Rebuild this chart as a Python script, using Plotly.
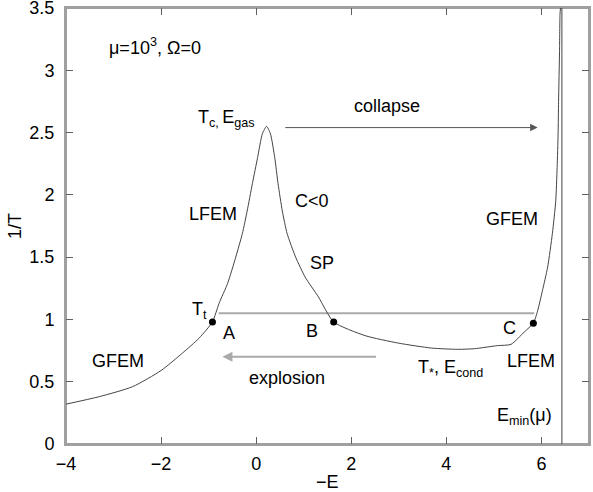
"""Microcanonical caloric curve 1/T vs -E with phase regions."""

import plotly.graph_objects as go

# caloric curve (-E, 1/T)
energy = [-4.0, -3.3, -2.6, -2.0, -1.55, -1.2, -0.92, -0.78, -0.6, -0.43, -0.29,
          -0.19, -0.08, 0.03, 0.13, 0.22, 0.30, 0.39, 0.46, 0.55, 0.65, 0.83,
          1.03, 1.31, 1.63, 2.29, 2.99, 3.69, 4.24, 4.59, 5.08, 5.36, 5.64,
          5.83, 5.92, 6.02, 6.13, 6.23, 6.30, 6.33, 6.35, 6.36, 6.38, 6.39, 6.40]
inv_temp = [0.32, 0.38, 0.46, 0.59, 0.73, 0.85, 0.98, 1.13, 1.29, 1.50, 1.69,
            1.87, 2.09, 2.30, 2.49, 2.55, 2.49, 2.30, 2.09, 1.87, 1.69, 1.50,
            1.34, 1.18, 0.98, 0.87, 0.81, 0.77, 0.76, 0.765, 0.79, 0.80, 0.90,
            0.97, 1.07, 1.23, 1.42, 1.69, 1.95, 2.22, 2.49, 2.75, 3.15, 3.45, 3.5]

# points A, B, C on the transition temperature
point_e = [-0.92, 1.63, 5.83]
point_t = [0.98, 0.98, 0.97]

# Maxwell-like plateau
plateau_e = [-0.79, 5.85]
plateau_t = [1.05, 1.05]

e_min = 6.43

collapse_e = [0.58, 5.92]
collapse_t = 2.54
explosion_e = [2.55, -0.71]
explosion_t = 0.70

x_range = [-4, 7]
y_range = [0, 3.5]
x_ticks = [-4, -2, 0, 2, 4, 6]
x_ticktext = ["\u22124", "\u22122", "0", "2", "4", "6"]
y_ticks = [0, 0.5, 1, 1.5, 2, 2.5, 3, 3.5]
y_ticktext = ["0", "0.5", "1", "1.5", "2", "2.5", "3", "3.5"]

labels = [
    ("\u03bc=10<sup>3</sup>, \u03a9=0", -2.12, 3.19, "center"),
    ("T<sub>c, </sub>E<sub>gas</sub>", 0.02, 2.61, "right"),
    ("collapse", 2.76, 2.71, "center"),
    ("LFEM", -0.90, 1.85, "center"),
    ("C&lt;0", 1.17, 1.95, "center"),
    ("GFEM", 5.37, 1.81, "center"),
    ("SP", 1.38, 1.45, "center"),
    ("T<sub>t</sub>", -1.20, 1.07, "center"),
    ("A", -0.57, 0.89, "center"),
    ("B", 1.17, 0.91, "center"),
    ("C", 5.33, 0.93, "center"),
    ("LFEM", 5.77, 0.67, "center"),
    ("T<sub>*</sub>, E<sub>cond</sub>", 4.08, 0.61, "center"),
    ("explosion", 0.64, 0.53, "center"),
    ("GFEM", -2.91, 0.67, "center"),
    ("E<sub>min</sub>(\u03bc)", 5.64, 0.22, "center"),
]

FONT = "Liberation Sans, Arial, Helvetica, sans-serif"
FRAME = "#a0a0a0"

fig = go.Figure()
fig.add_trace(go.Scatter(
    x=plateau_e, y=plateau_t, mode="lines",
    line=dict(color="#aaaaaa", width=2),
))
fig.add_trace(go.Scatter(
    x=energy, y=inv_temp, mode="lines",
    line=dict(color="#444444", width=1, shape="spline", smoothing=0.6),
))
fig.add_trace(go.Scatter(
    x=point_e, y=point_t, mode="markers",
    marker=dict(color="black", size=7),
))
# invisible trace so the top/right tick axes get drawn
fig.add_trace(go.Scatter(
    x=point_e, y=point_t, mode="markers", xaxis="x2", yaxis="y2",
    marker=dict(opacity=0), hoverinfo="skip",
))
fig.add_shape(type="line", x0=e_min, x1=e_min, y0=0, y1=3.5,
              line=dict(color="#444444", width=1))
# plot frame
fig.add_shape(type="rect", xref="paper", yref="paper", x0=0, x1=1, y0=0, y1=1,
              line=dict(color=FRAME, width=2), layer="below")

fig.add_annotation(
    x=collapse_e[1], y=collapse_t, ax=collapse_e[0], ay=collapse_t,
    xref="x", yref="y", axref="x", ayref="y", text="",
    showarrow=True, arrowhead=2, arrowsize=1.5, arrowwidth=1, arrowcolor="#555555",
)
fig.add_annotation(
    x=explosion_e[1], y=explosion_t, ax=explosion_e[0], ay=explosion_t,
    xref="x", yref="y", axref="x", ayref="y", text="",
    showarrow=True, arrowhead=2, arrowsize=1, arrowwidth=2, arrowcolor="#aaaaaa",
)

for text, x, y, anchor in labels:
    fig.add_annotation(
        x=x, y=y, text=text, showarrow=False, xanchor=anchor,
        font=dict(family=FONT, size=18, color="black"),
    )

# axis titles
fig.add_annotation(
    x=0, y=0.5, xref="paper", yref="paper", xshift=-51, textangle=-90,
    xanchor="center", yanchor="middle",
    text="1/T", showarrow=False, font=dict(family=FONT, size=18, color="black"),
)
fig.add_annotation(
    x=0.5, y=0, xref="paper", yref="paper", yshift=-38,
    xanchor="center", yanchor="middle",
    text="\u2212E", showarrow=False, font=dict(family=FONT, size=18, color="black"),
)

axis_style = dict(
    showgrid=False, zeroline=False, showline=True,
    linecolor=FRAME, linewidth=2, ticks="inside", ticklen=7, tickwidth=1,
    tickcolor="#606060", tickfont=dict(family=FONT, size=18, color="black"),
    automargin=False, ticklabeloverflow="allow",
)
fig.update_layout(
    width=593, height=492,
    margin=dict(l=66, r=4, t=8, b=48),
    plot_bgcolor="white", paper_bgcolor="white",
    showlegend=False,
    xaxis=dict(range=x_range, tickvals=x_ticks, ticktext=x_ticktext,
               ticklabelstandoff=2, **axis_style),
    yaxis=dict(range=y_range, tickvals=y_ticks, ticktext=y_ticktext,
               ticklabelstandoff=6, **axis_style),
    xaxis2=dict(range=x_range, tickvals=x_ticks, overlaying="x", side="top",
                showticklabels=False, **axis_style),
    yaxis2=dict(range=y_range, tickvals=y_ticks, overlaying="y", side="right",
                showticklabels=False, **axis_style),
)

fig.write_html("out.html", config={"displayModeBar": False},
               post_script="document.body.style.margin='0';")
